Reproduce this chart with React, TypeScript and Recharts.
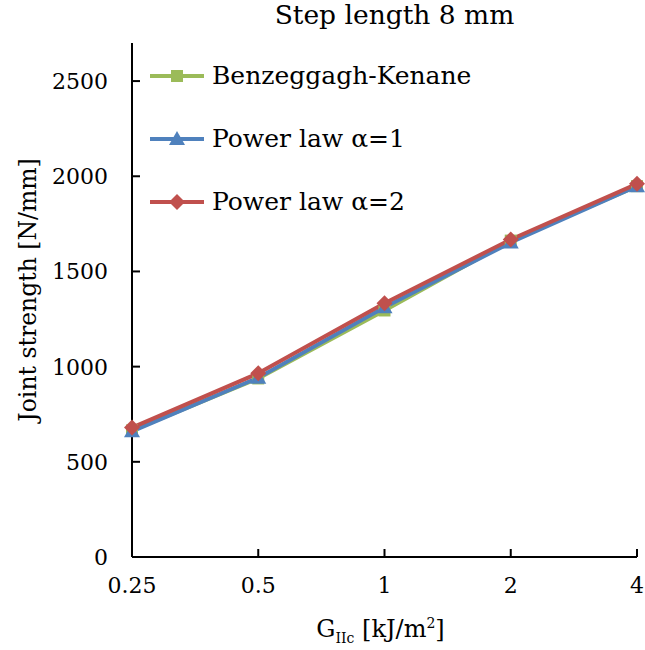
import React from 'react';
import { LineChart, Line, XAxis, YAxis, Legend } from 'recharts';

const categories = ['0.25', '0.5', '1', '2', '4'];
const benzeggagh = [665, 938, 1295, 1662, 1948];
const powerLaw1 = [660, 942, 1312, 1652, 1948];
const powerLaw2 = [680, 965, 1333, 1668, 1960];
const yTicks = [0, 500, 1000, 1500, 2000, 2500];

const data = categories.map((g, i) => ({
  g,
  bk: benzeggagh[i],
  pl1: powerLaw1[i],
  pl2: powerLaw2[i],
}));

const FONT = '"DejaVu Serif", serif';
const GREEN = '#9BBB59';
const BLUE = '#4F81BD';
const RED = '#C0504D';

type Shape = 'square' | 'triangle' | 'diamond';

const Marker = ({ cx, cy, shape, color }: { cx: number; cy: number; shape: Shape; color: string }) => {
  if (shape === 'square') return <rect x={cx - 6} y={cy - 6} width={12} height={12} fill={color} />;
  if (shape === 'triangle')
    return <polygon points={`${cx},${cy - 8} ${cx + 8},${cy + 6} ${cx - 8},${cy + 6}`} fill={color} />;
  return <polygon points={`${cx},${cy - 8} ${cx + 8},${cy} ${cx},${cy + 8} ${cx - 8},${cy}`} fill={color} />;
};

const makeDot = (shape: Shape, color: string) => (props: any) => {
  const { cx, cy, index } = props;
  if (cx == null || cy == null) return <g key={index} />;
  return <Marker key={index} cx={cx} cy={cy} shape={shape} color={color} />;
};

const series = [
  { key: 'bk', name: 'Benzeggagh-Kenane', color: GREEN, shape: 'square' as Shape },
  { key: 'pl1', name: 'Power law α=1', color: BLUE, shape: 'triangle' as Shape },
  { key: 'pl2', name: 'Power law α=2', color: RED, shape: 'diamond' as Shape },
];

const XTick = (props: any) => {
  const { x, y, payload } = props;
  return (
    <g>
      <line x1={x} x2={x} y1={y} y2={y - 8} stroke="#000" strokeWidth={2} />
      <text x={x} y={y + 36} textAnchor="middle" fontFamily={FONT} fontSize={22} fill="#000">
        {payload.value}
      </text>
    </g>
  );
};

const YTick = (props: any) => {
  const { x, y, payload } = props;
  return (
    <g>
      <line x1={x} x2={x + 8} y1={y} y2={y} stroke="#000" strokeWidth={2} />
      <text x={x - 24} y={y + 8} textAnchor="end" fontFamily={FONT} fontSize={22} fill="#000">
        {payload.value}
      </text>
    </g>
  );
};

const LegendContent = () => (
  <div style={{ fontFamily: FONT, fontSize: 25, color: '#000' }}>
    {series.map((s) => (
      <div key={s.key} style={{ display: 'flex', alignItems: 'center', height: 63 }}>
        <svg width={60} height={20}>
          <line x1={2} x2={56} y1={10} y2={10} stroke={s.color} strokeWidth={4} />
          <Marker cx={29} cy={10} shape={s.shape} color={s.color} />
        </svg>
        <span style={{ marginLeft: 4 }}>{s.name}</span>
      </div>
    ))}
  </div>
);

export default function App() {
  return (
    <div style={{ position: 'absolute', left: 0, top: 0, width: 645, height: 650, background: '#fff' }}>
      <div
        style={{
          position: 'absolute',
          top: -2,
          left: 142,
          width: 505,
          textAlign: 'center',
          fontFamily: FONT,
          fontSize: 26.5,
          lineHeight: '34px',
        }}
      >
        Step length 8 mm
      </div>
      <div
        style={{
          position: 'absolute',
          left: 28 - 160,
          top: 290 - 16,
          width: 320,
          height: 32,
          lineHeight: '32px',
          textAlign: 'center',
          transform: 'rotate(-90deg)',
          fontFamily: FONT,
          fontSize: 23.5,
        }}
      >
        Joint strength [N/mm]
      </div>
      <div
        style={{
          position: 'absolute',
          left: 128,
          width: 505,
          top: 608,
          textAlign: 'center',
          fontFamily: FONT,
          fontSize: 24,
          lineHeight: '30px',
        }}
      >
        G<sub style={{ fontSize: 14 }}>IIc</sub> [kJ/m<sup style={{ fontSize: 14 }}>2</sup>]
      </div>
      <LineChart width={645} height={650} data={data} margin={{ top: 43, right: 8, bottom: 33, left: 0 }}>
        <XAxis
          dataKey="g"
          scale="point"
          padding={{ left: 0, right: 0 }}
          interval={0}
          height={60}
          tickSize={0}
          tickMargin={0}
          tickLine={false}
          tick={<XTick />}
          axisLine={{ stroke: '#000', strokeWidth: 2 }}
        />
        <XAxis
          xAxisId="top"
          orientation="top"
          dataKey="g"
          scale="point"
          height={0}
          tick={false}
          tickLine={false}
          axisLine={{ stroke: '#000', strokeWidth: 2 }}
        />
        <YAxis
          domain={[0, 2700]}
          ticks={yTicks}
          interval={0}
          width={132}
          tickSize={0}
          tickMargin={0}
          tickLine={false}
          tick={<YTick />}
          axisLine={{ stroke: '#000', strokeWidth: 2 }}
        />
        <YAxis
          yAxisId="right"
          orientation="right"
          domain={[0, 2700]}
          width={0}
          tick={false}
          tickLine={false}
          axisLine={{ stroke: '#000', strokeWidth: 2 }}
        />
        <Legend
          layout="vertical"
          align="center"
          verticalAlign="middle"
          content={<LegendContent />}
          wrapperStyle={{ left: 148, top: 44, width: 400, height: 190 }}
        />
        {series.map((s) => (
          <Line
            key={s.key}
            dataKey={s.key}
            name={s.name}
            stroke={s.color}
            strokeWidth={4}
            dot={makeDot(s.shape, s.color)}
            activeDot={false}
            isAnimationActive={false}
          />
        ))}
      </LineChart>
    </div>
  );
}
